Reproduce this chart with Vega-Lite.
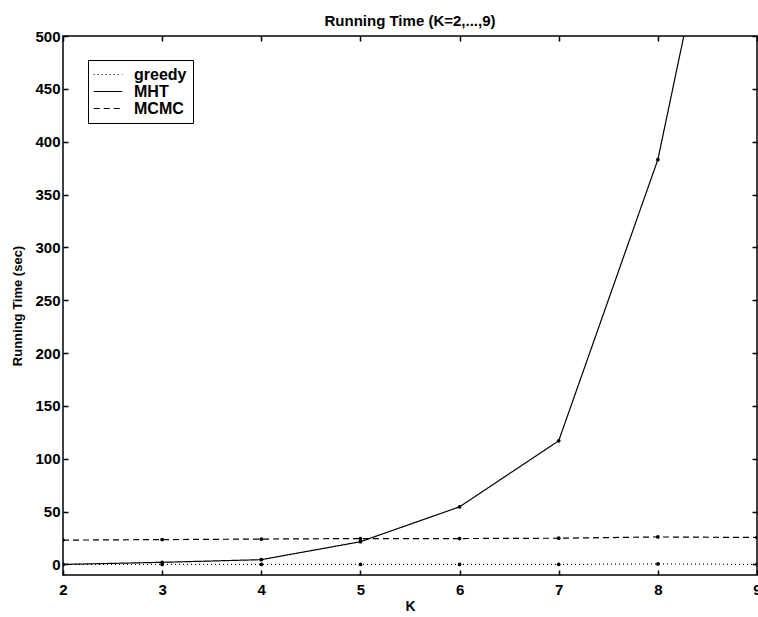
{
  "$schema": "https://vega.github.io/schema/vega-lite/v6.json",
  "width": 694,
  "height": 539,
  "autosize": {"type": "none"},
  "padding": {"left": 63, "top": 36, "right": 1, "bottom": 42},
  "background": "white",
  "config": {
    "view": {"stroke": "black", "strokeWidth": 1.5},
    "font": "Liberation Sans",
    "axis": {
      "grid": false,
      "domain": false,
      "ticks": true,
      "offset": -5,
      "tickColor": "black",
      "tickOpacity": 1,
      "tickWidth": 1.5,
      "tickSize": 5,
      "zindex": 1,
      "labelFont": "Liberation Sans",
      "labelFontWeight": "bold",
      "labelFontSize": 15,
      "labelColor": "black",
      "titleFont": "Liberation Sans",
      "titleFontWeight": "bold",
      "titleFontSize": 13,
      "titleColor": "black"
    }
  },
  "title": {
    "text": "Running Time (K=2,...,9)",
    "font": "Liberation Sans",
    "fontSize": 15,
    "fontWeight": "bold",
    "color": "black",
    "offset": 0
  },
  "data": {
    "values": [
      {"K": 2, "method": "greedy", "time": 0},
      {"K": 3, "method": "greedy", "time": 0},
      {"K": 4, "method": "greedy", "time": 0},
      {"K": 5, "method": "greedy", "time": 0},
      {"K": 6, "method": "greedy", "time": 0},
      {"K": 7, "method": "greedy", "time": 0},
      {"K": 8, "method": "greedy", "time": 0.5},
      {"K": 9, "method": "greedy", "time": 0},
      {"K": 2, "method": "MHT", "time": 0},
      {"K": 3, "method": "MHT", "time": 2},
      {"K": 4, "method": "MHT", "time": 4.5},
      {"K": 5, "method": "MHT", "time": 21.5},
      {"K": 6, "method": "MHT", "time": 54.5},
      {"K": 7, "method": "MHT", "time": 117},
      {"K": 8, "method": "MHT", "time": 383},
      {"K": 9, "method": "MHT", "time": 830},
      {"K": 2, "method": "MCMC", "time": 23},
      {"K": 3, "method": "MCMC", "time": 23.5},
      {"K": 4, "method": "MCMC", "time": 24},
      {"K": 5, "method": "MCMC", "time": 24.5},
      {"K": 6, "method": "MCMC", "time": 24.5},
      {"K": 7, "method": "MCMC", "time": 24.8},
      {"K": 8, "method": "MCMC", "time": 26},
      {"K": 9, "method": "MCMC", "time": 25.5}
    ]
  },
  "layer": [
    {
      "mark": {
        "type": "line",
        "clip": true,
        "color": "black",
        "strokeWidth": 1.2,
        "point": {"filled": true, "size": 14, "color": "black"}
      },
      "encoding": {
        "x": {
          "field": "K",
          "type": "quantitative",
          "scale": {"domain": [2, 9], "nice": false, "zero": false},
          "axis": {
            "orient": "bottom",
            "title": "K",
            "titleFontSize": 14,
            "values": [2, 3, 4, 5, 6, 7, 8, 9],
            "labelPadding": 7,
            "titlePadding": 2,
            "labelFlush": false
          }
        },
        "y": {
          "field": "time",
          "type": "quantitative",
          "scale": {"domain": [-10, 500], "nice": false, "zero": false},
          "axis": {
            "orient": "left",
            "title": "Running Time (sec)",
            "values": [0, 50, 100, 150, 200, 250, 300, 350, 400, 450, 500],
            "labelPadding": 3,
            "titlePadding": 10,
            "labelFlush": false
          }
        },
        "strokeDash": {
          "field": "method",
          "type": "nominal",
          "scale": {
            "domain": ["greedy", "MHT", "MCMC"],
            "range": [[1, 3], [1, 0], [6, 4]]
          },
          "legend": {
            "title": null,
            "orient": "none",
            "legendX": 25,
            "legendY": 24,
            "strokeColor": "black",
            "fillColor": "white",
            "padding": 6,
            "symbolType": "M-1.9,0H1.9",
            "symbolStrokeColor": "black",
            "symbolStrokeWidth": 1.2,
            "symbolSize": 225,
            "symbolOffset": 5.5,
            "labelOffset": 17.5,
            "labelFont": "Liberation Sans",
            "labelFontWeight": "bold",
            "labelFontSize": 16,
            "labelColor": "black",
            "rowPadding": 0,
            "encode": {
              "symbols": {
                "update": {
                  "stroke": {"value": "black"},
                  "fill": {"value": "transparent"},
                  "opacity": {"value": 1}
                }
              }
            }
          }
        }
      }
    },
    {
      "mark": {"type": "point", "opacity": 0, "clip": true},
      "encoding": {
        "x": {
          "field": "K",
          "type": "quantitative",
          "axis": {
            "orient": "top",
            "title": null,
            "labels": false,
            "values": [2, 3, 4, 5, 6, 7, 8, 9]
          }
        },
        "y": {
          "field": "time",
          "type": "quantitative",
          "axis": {
            "orient": "right",
            "title": null,
            "labels": false,
            "values": [0, 50, 100, 150, 200, 250, 300, 350, 400, 450, 500]
          }
        }
      }
    }
  ]
}
